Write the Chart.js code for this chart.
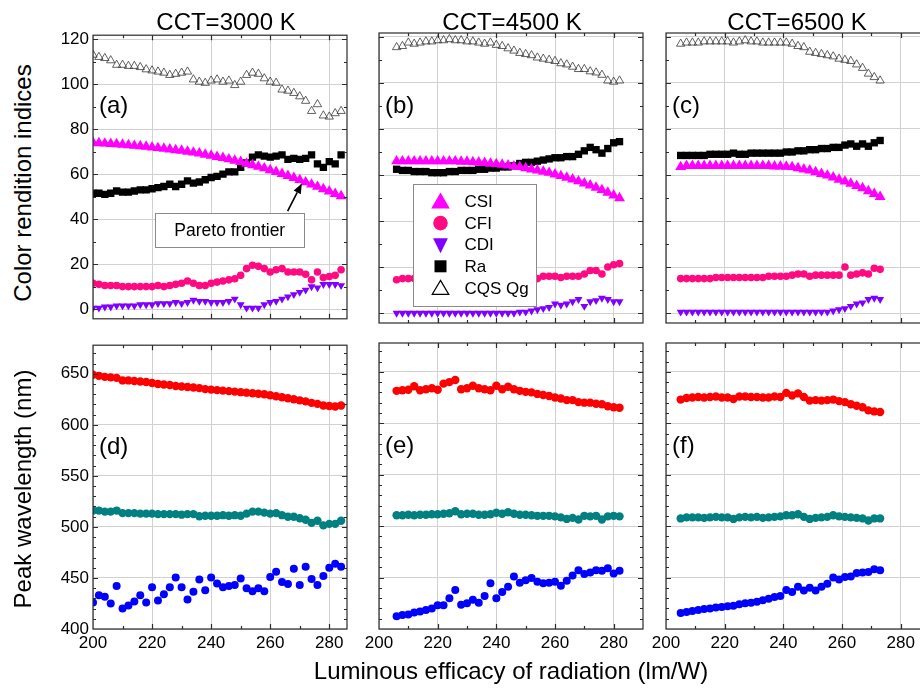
<!DOCTYPE html>
<html>
<head>
<meta charset="utf-8">
<script src="https://cdn.jsdelivr.net/npm/chart.js@4.4.1/dist/chart.umd.min.js"></script>
<style>
  body { margin: 0; width: 920px; height: 689px; overflow: hidden; background: #fff; position: relative;
         font-family: "Liberation Sans", Arial, sans-serif; }
  canvas { position: absolute; }
  .t { position: absolute; font-size: 24px; line-height: 1; color: #000; white-space: nowrap;
       transform: translate(-50%, -50%); }
  .t.rot { transform: translate(-50%, -50%) rotate(-90deg); }
</style>
</head>
<body>
<canvas id="pa"></canvas><canvas id="pb"></canvas><canvas id="pc"></canvas>
<canvas id="pd"></canvas><canvas id="pe"></canvas><canvas id="pf"></canvas>

<div class="t" style="left:226px;top:22px">CCT=3000 K</div>
<div class="t" style="left:512px;top:22px">CCT=4500 K</div>
<div class="t" style="left:797px;top:22px">CCT=6500 K</div>
<div class="t rot" style="left:23px;top:183px">Color rendition indices</div>
<div class="t rot" style="left:23px;top:489px">Peak wavelength (nm)</div>
<div class="t" style="left:511px;top:671px">Luminous efficacy of radiation (lm/W)</div>

<script>
const FONT = '"Liberation Sans", Arial, sans-serif';

// axis ticks
const xTicks = [200, 220, 240, 260, 280];
const xMinor = [210, 230, 250, 270];
const yTopTicks = [0, 20, 40, 60, 80, 100, 120];
const yTopMinor = [10, 30, 50, 70, 90, 110];
const yBotTicks = [400, 450, 500, 550, 600, 650];
const yBotMinor = [410, 420, 430, 440, 460, 470, 480, 490, 510, 520, 530, 540,
                   560, 570, 580, 590, 610, 620, 630, 640, 660, 670];

// CCT = 3000 K
const xA = [200,202,204,206,208,210,212,214,216,218,220,222,224,226,228,230,232,234,236,238,240,242,
            244,246,248,250,252,254,256,258,260,262,264,266,268,270,272,274,276,278,280,282,284];
const cqsA = [113,112,111.5,110.5,108.5,108.5,108,108,107.5,106.5,106,105.5,105,104,104.5,105,105.5,102,101,100.5,
              101.5,102,101,101.5,99.5,101,104,105,104.5,102.5,101,100.5,97.5,97,96,94.5,92.5,88,91,86,85.5,87,88];
const csiA = [74,73.8,73.6,73.4,73.3,73.1,72.9,72.6,72.4,72.2,71.9,71.6,71.3,71,70.7,70.4,70,69.6,69.2,68.7,
              68.2,67.7,67.2,66.6,66,65.4,64.7,64,63.3,62.6,61.8,61,60.1,59.2,58.3,57.4,56.4,55.4,54.4,53.3,52.3,51.2,50.2];
const raA = [51.5,51.5,51,51.5,52.5,52,52,52.5,53,53,53.5,54,54.5,55.5,54.5,55.5,57,56,56.5,57.5,
             58.5,59,60,61,61,63,65,67.5,68.5,68,67.5,68,68.5,66.5,67,66.5,67,68.5,64.5,63,65.5,64.5,68.5];
const cfiA = [11.5,11,10.5,10.5,10.5,10,10,10,10,10,10,10.5,10,10.5,11,11.5,12.5,11.5,10.5,10.5,
              11.5,12,12.5,13,13.5,15,18,19.5,19,18,16.5,17.5,18,16.5,16.5,16.5,15.5,13,16.5,14,14.5,15,17.5];
const cdiA = [0.5,0.5,1,1,1.5,1.5,1.5,1.5,2,2,2,2.5,2.5,2.5,3,2.5,3,4,3.5,3.5,
              3,3,3,3.5,4.5,2,0.5,0.5,0.5,2,3,3.5,4.5,5.5,6.5,7.5,8.5,10,9.5,11,11,11,10.5];
const redD = [649,648,647,646.5,646,643.5,643.5,643,642.5,642,641,640,639.5,639,638,637.5,637,636.5,636,635,
              634.5,634,633.5,633,632.5,632,631.5,631,630.5,630,629,628,627,626,625,624,623,621.5,620.5,619,618.5,618,619];
const tealD = [516,516,515,515,516,513.5,513.5,513.5,513,513,513,512.5,512.5,512.5,512.5,512,512.5,512.5,510.5,511,
               511,511,511.5,511,511.5,511,513,515,515,514,513,513.5,511.5,510,510,508.5,507,504,506,501.5,503,503,506];
const blueD = [426,433,431.5,425,442,420,423,427,433,426,441,428,434,441,450.5,441,429,436.5,448.5,438,
               450.5,444.5,441,442,443,449.5,440,437,440,437,451,456,446,444,459,443,461,449,443,452,460,464,461];

// CCT = 4500 K
const xB = [206,208,210,212,214,216,218,220,222,224,226,228,230,232,234,236,238,240,242,244,
            246,248,250,252,254,256,258,260,262,264,266,268,270,272,274,276,278,280,282];
const cqsB = [115.5,116,117.5,117,117.5,118,118,118.5,118.5,119,118.5,118.5,118,118,117.5,117,117.5,116.5,116,115,
              114,113,112.5,112,111,110.5,110,109.5,108.5,108,107,106,106,105,104.5,103.5,101,100.5,101];
const csiB = [66,66,66,66,66,66,66,66,66,66,66,65.8,65.8,65.6,65.5,65.3,65,64.8,64.5,64.2,
              63.8,63.5,63,62.5,62,61.5,61,60.3,59.6,58.9,58.1,57.3,56.4,55.5,54.5,53.5,52.4,51.2,50];
const raB = [62.5,62,62,61.5,61.5,61.5,61,61,61,61.5,61.5,62,62,62,62.5,62.5,63,63,63.5,63.5,
             64,65,65.5,65.5,66,66.5,67,67.5,67.5,68,68,69,70.5,72,71,69.5,71.5,74,74.5];
const cfiB = [14.5,15,15,15,15,15,15,15,15,15,15,15,15,15,15,15,15,15,15,15,
              15,15,15,15,15,16,16,16,15.5,16,16,16,17,18.5,18.5,17,20,21,21.5];
const cdiB = [0,0,0,0,0,0,0,0,0,0,0,0,0,0,0,0,0,0,0,0,
              0,0.5,0.5,1,1.5,2,2.5,4,3.5,4,5,6,3,5,5.5,6.5,6,5,5];
const redE = [631.5,632,632.5,636,632,633,634,632.5,638.5,640,642,633,634,636.5,634,633,632,636.5,633,635.5,
              633,631.5,630.5,630,628.5,627.5,626.5,625,624,622.5,622.5,620.5,620,620,619,618.5,616.5,615.5,615];
const tealE = [510.5,510.5,511,510.5,511,511,511.5,511.5,512,512.5,514.5,511.5,512,512,511,511,511.5,513,512,513.5,
               512,511,511,510.5,510,510,510,509.5,508.5,507,508,506.5,510,509.5,510,506.5,509.5,510,509.5];
const blueE = [412.5,413.5,414,416,417,418.5,420,423,423,430,438,423.5,425,428.5,425.5,432,444.5,430,436,441,
               451,445,447.5,449.5,446,444.5,445,446,442,447,452,457,453.5,455,457,456.5,459,454,456.5];

// CCT = 6500 K
const xC = [205,207,209,211,213,215,217,219,221,223,225,227,229,231,233,235,237,239,241,243,
            245,247,249,251,253,255,257,259,261,263,265,267,269,271,273];
const cqsC = [117,117.5,117.5,117.5,118,118,118,118,118,117.5,118,118.5,118,118,117.5,117.5,117.5,117.5,117.5,117,
              116,115.5,113.5,113,112.5,112,111.5,110.5,110,109.5,108,106.5,104,102.5,101];
const csiC = [63.5,64,64,64,64,64,64,64,64,64,64,64,64,64,64,64,63.8,63.8,63.7,63.5,
              63,62.5,62,61.3,60.5,59.8,59,58,57.2,56.3,55.3,54.3,53,51.8,50.5];
const raC = [68.5,68.5,68.5,68.5,68.5,69,69,69,69,69.5,69,69,69.5,69.5,69.5,69.5,69.5,69.5,70,70,
             70.5,70.5,71,71,71.5,71.5,72,72,73,73.5,72.5,73.5,72.5,74,75];
const cfiC = [15,15,15,15,15,15,15.5,15.5,15.5,15.5,15.5,15.5,15.5,15.5,15.5,16,16,16,16,16.5,
              17,17,16,16.5,16.5,16.5,16.5,16.5,20,16.5,17,17.5,17,19.5,19];
const cdiC = [0.5,0.5,0.5,0.5,0.5,0.5,0.5,0.5,0.5,0.5,0.5,0.5,0.5,0.5,0.5,0.5,0.5,0.5,0.5,0.5,
              0.5,0.5,0.5,0.5,0.5,0.5,1,1.5,2,3,4,4.5,6,6.5,6];
const redF = [623,624.5,625,625.5,625,625.5,626,625,625,623.5,626,626,625.5,625.5,625,625,626,625.5,629.5,627,
              629,625.5,622,622.5,622,622.5,623,621.5,620.5,618.5,617,615.5,612.5,611.5,611];
const tealF = [507.5,508.5,508.5,508.5,508,508.5,509,508.5,508.5,507,508.5,509,508.5,509,508,508.5,509,509.5,510.5,510.5,
               511.5,509,507,508,508.5,509,510.5,509.5,509,508.5,508,507.5,505.5,507.5,507.5];
const blueF = [415.5,416.5,417.5,418.5,419.5,420,421,421.5,422,422.5,424,425,425.5,426.5,428,429.5,431,432,438,436,
               441,437.5,440,437.5,441,444,450,448,450.5,451,454.5,455,455.5,458,457];

// marker styles
const sCSI = { label: 'CSI', mark: 'up', style: 'triangle', r: 6.3, fill: '#FF00FF' };
const sCFI = { label: 'CFI', mark: 'circle', style: 'circle', r: 3.8, fill: '#FF0A80' };
const sCDI = { label: 'CDI', mark: 'down', style: 'triangle', rot: 180, r: 4.6, fill: '#7F00FF' };
const sRa  = { label: 'Ra', mark: 'square', style: 'rect', r: 5.2, fill: '#000000' };
const sCQS = { label: 'CQS Qg', mark: 'open', style: 'triangle', r: 4.8, fill: 'rgba(0,0,0,0)', line: '#3a3a3a', bw: 0.8 };
const sRed  = { style: 'circle', r: 4.2, fill: '#FF0000' };
const sTeal = { style: 'circle', r: 4.2, fill: '#008080' };
const sBlue = { style: 'circle', r: 4, fill: '#0000FF' };

const legendItems = [sCSI, sCFI, sCDI, sRa, sCQS];

// frame, inward ticks and panel letter
const framePlugin = {
  id: 'frame',
  afterDatasetsDraw(chart) {
    const cfg = chart.options.plugins.frame;
    const ctx = chart.ctx;
    const { left, right, top, bottom } = chart.chartArea;
    const xs = chart.scales.x, ys = chart.scales.y;
    ctx.save();
    ctx.strokeStyle = '#2b2b2b';
    ctx.lineWidth = 1.2;
    ctx.beginPath();
    const xt = (vals, len) => vals.forEach(v => {
      const p = Math.round(xs.getPixelForValue(v)) + 0.5;
      if (p <= left + 1 || p >= right - 1) return;
      ctx.moveTo(p, bottom); ctx.lineTo(p, bottom - len);
      ctx.moveTo(p, top); ctx.lineTo(p, top + len);
    });
    const yt = (vals, len) => vals.forEach(v => {
      const p = Math.round(ys.getPixelForValue(v)) + 0.5;
      if (p <= top + 1 || p >= bottom - 1) return;
      ctx.moveTo(left, p); ctx.lineTo(left + len, p);
      ctx.moveTo(right, p); ctx.lineTo(right - len, p);
    });
    xt(xTicks, 5); xt(xMinor, 3);
    yt(cfg.yMajor, 5); yt(cfg.yMinor, 3);
    ctx.stroke();
    ctx.strokeRect(left, top, right - left, bottom - top);

    ctx.fillStyle = '#000';
    ctx.font = '24px ' + FONT;
    ctx.textBaseline = 'middle';
    ctx.textAlign = 'left';
    ctx.fillText(cfg.letter, left + 6, ys.getPixelForValue(cfg.letterY));

    if (cfg.pareto) drawPareto(chart, cfg.pareto);
    if (cfg.legend) drawLegend(chart, cfg.legend);
    ctx.restore();
  }
};

function drawPareto(chart, p) {
  const ctx = chart.ctx, xs = chart.scales.x, ys = chart.scales.y;
  const x0 = xs.getPixelForValue(p.box[0]), x1 = xs.getPixelForValue(p.box[1]);
  const y0 = ys.getPixelForValue(p.box[3]), y1 = ys.getPixelForValue(p.box[2]);
  ctx.fillStyle = '#fff';
  ctx.fillRect(x0, y0, x1 - x0, y1 - y0);
  ctx.strokeStyle = '#8a8a8a';
  ctx.lineWidth = 1;
  ctx.strokeRect(Math.round(x0) + 0.5, Math.round(y0) + 0.5, Math.round(x1 - x0), Math.round(y1 - y0));
  ctx.fillStyle = '#000';
  ctx.font = '17.5px ' + FONT;
  ctx.textAlign = 'center';
  ctx.textBaseline = 'middle';
  ctx.fillText(p.text, (x0 + x1) / 2, (y0 + y1) / 2 + 1);
  // arrow
  const tx = xs.getPixelForValue(p.tail[0]), ty = ys.getPixelForValue(p.tail[1]);
  const hx = xs.getPixelForValue(p.tip[0]), hy = ys.getPixelForValue(p.tip[1]);
  const a = Math.atan2(hy - ty, hx - tx);
  const hl = 10, hw = 4;
  const bx = hx - hl * Math.cos(a), by = hy - hl * Math.sin(a);
  ctx.strokeStyle = '#000';
  ctx.lineWidth = 1.6;
  ctx.beginPath(); ctx.moveTo(tx, ty); ctx.lineTo(bx, by); ctx.stroke();
  ctx.fillStyle = '#000';
  ctx.beginPath();
  ctx.moveTo(hx, hy);
  ctx.lineTo(bx + hw * Math.sin(a), by - hw * Math.cos(a));
  ctx.lineTo(bx - hw * Math.sin(a), by + hw * Math.cos(a));
  ctx.closePath(); ctx.fill();
}

function drawLegend(chart, lg) {
  const ctx = chart.ctx, xs = chart.scales.x, ys = chart.scales.y;
  const x0 = Math.round(xs.getPixelForValue(lg.box[0])) + 0.5, x1 = Math.round(xs.getPixelForValue(lg.box[1])) + 0.5;
  const y0 = Math.round(ys.getPixelForValue(lg.box[3])) + 0.5, y1 = Math.round(ys.getPixelForValue(lg.box[2])) + 0.5;
  ctx.fillStyle = '#fff';
  ctx.fillRect(x0, y0, x1 - x0, y1 - y0);
  ctx.strokeStyle = '#8a8a8a';
  ctx.lineWidth = 1;
  ctx.strokeRect(x0, y0, x1 - x0, y1 - y0);
  ctx.font = '17px ' + FONT;
  ctx.textAlign = 'left';
  ctx.textBaseline = 'middle';
  legendItems.forEach((s, i) => {
    const cy = y0 + 17 + i * 21.6, cx = x0 + 27;
    ctx.fillStyle = s.fill;
    ctx.beginPath();
    if (s.mark === 'up') {
      ctx.moveTo(cx, cy - 9); ctx.lineTo(cx + 9.3, cy + 7); ctx.lineTo(cx - 9.3, cy + 7); ctx.closePath(); ctx.fill();
    } else if (s.mark === 'circle') {
      ctx.arc(cx, cy, 7.3, 0, Math.PI * 2); ctx.fill();
    } else if (s.mark === 'down') {
      ctx.moveTo(cx - 7.4, cy - 6.5); ctx.lineTo(cx + 7.4, cy - 6.5); ctx.lineTo(cx, cy + 8.5); ctx.closePath(); ctx.fill();
    } else if (s.mark === 'square') {
      ctx.rect(cx - 6, cy - 6, 12, 12); ctx.fill();
    } else {
      ctx.moveTo(cx, cy - 7.5); ctx.lineTo(cx + 8.3, cy + 6.5); ctx.lineTo(cx - 8.3, cy + 6.5); ctx.closePath();
      ctx.strokeStyle = '#000'; ctx.lineWidth = 1.2; ctx.stroke();
    }
    ctx.fillStyle = '#000';
    ctx.fillText(s.label, x0 + 51, cy + 1);
  });
}

function makePanel(cfg) {
  const cv = document.getElementById(cfg.id);
  const W = cfg.R - cfg.L + cfg.mL + cfg.mR;
  const H = cfg.B - cfg.T + cfg.mT + cfg.mB;
  cv.width = W; cv.height = H;
  cv.style.left = (cfg.L - cfg.mL) + 'px';
  cv.style.top = (cfg.T - cfg.mT) + 'px';
  cv.style.width = W + 'px'; cv.style.height = H + 'px';

  const datasets = cfg.sets.map(([s, ys]) => ({
    label: s.label || '',
    data: ys.map((v, i) => ({ x: cfg.x[i], y: v })),
    pointStyle: s.style,
    rotation: s.rot || 0,
    pointRadius: s.r,
    backgroundColor: s.fill,
    borderColor: s.line || s.fill,
    borderWidth: s.bw || 0,
    showLine: false,
    clip: 0
  }));

  new Chart(cv, {
    type: 'scatter',
    data: { datasets },
    options: {
      responsive: false,
      devicePixelRatio: 1,
      animation: false,
      events: [],
      layout: { padding: { left: 0, right: cfg.mR, top: cfg.mT, bottom: 0 } },
      plugins: {
        legend: { display: false },
        tooltip: { enabled: false },
        frame: cfg.frame
      },
      scales: {
        x: {
          type: 'linear', min: 200, max: cfg.xMax,
          afterBuildTicks: s => { s.ticks = xTicks.map(v => ({ value: v })); },
          afterFit: s => { s.height = cfg.mB; },
          grid: { color: '#d2d2d2', lineWidth: 1, drawTicks: false },
          border: { display: false },
          ticks: { display: cfg.showX, color: '#000', padding: 4, maxRotation: 0, autoSkip: false,
                   font: { family: FONT, size: 17 } }
        },
        y: {
          type: 'linear', min: cfg.yMin, max: cfg.yMax,
          afterBuildTicks: s => { s.ticks = cfg.frame.yMajor.map(v => ({ value: v })); },
          afterFit: s => { s.width = cfg.mL; },
          grid: { color: '#d2d2d2', lineWidth: 1, drawTicks: false },
          border: { display: false },
          ticks: { display: cfg.showY, color: '#000', padding: 4, autoSkip: false,
                   font: { family: FONT, size: 17 } }
        }
      }
    },
    plugins: [framePlugin]
  });
}

const top0 = { T: 33, B: 323, yMin: -4.3, yMax: 121.7, mT: 12, mB: 10 };
const bot0 = { T: 343, B: 629, yMin: 400, yMax: 678, mT: 12, mB: 32 };

makePanel(Object.assign({}, top0, {
  id: 'pa', L: 93, R: 347, mL: 40, mR: 20, xMax: 286, x: xA, showX: false, showY: true,
  sets: [[sCSI, csiA], [sRa, raA], [sCFI, cfiA], [sCDI, cdiA], [sCQS, cqsA]],
  frame: { yMajor: yTopTicks, yMinor: yTopMinor, letter: '(a)', letterY: 90,
           pareto: { text: 'Pareto frontier', box: [221.1, 271.5, 27.5, 42.7], tail: [265.9, 43.5], tip: [270.7, 55.8] } }
}));
makePanel(Object.assign({}, top0, {
  id: 'pb', L: 379, R: 643, mL: 20, mR: 20, xMax: 290, x: xB, showX: false, showY: false,
  sets: [[sCSI, csiB], [sRa, raB], [sCFI, cfiB], [sCDI, cdiB], [sCQS, cqsB]],
  frame: { yMajor: yTopTicks, yMinor: yTopMinor, letter: '(b)', letterY: 90,
           legend: { box: [211.6, 253.6, 3.0, 56.3] } }
}));
makePanel(Object.assign({}, top0, {
  id: 'pc', L: 666, R: 930, mL: 20, mR: 20, xMax: 290, x: xC, showX: false, showY: false,
  sets: [[sCSI, csiC], [sRa, raC], [sCFI, cfiC], [sCDI, cdiC], [sCQS, cqsC]],
  frame: { yMajor: yTopTicks, yMinor: yTopMinor, letter: '(c)', letterY: 90 }
}));
makePanel(Object.assign({}, bot0, {
  id: 'pd', L: 93, R: 347, mL: 40, mR: 20, xMax: 286, x: xA, showX: true, showY: true,
  sets: [[sRed, redD], [sTeal, tealD], [sBlue, blueD]],
  frame: { yMajor: yBotTicks, yMinor: yBotMinor, letter: '(d)', letterY: 578 }
}));
makePanel(Object.assign({}, bot0, {
  id: 'pe', L: 379, R: 643, mL: 20, mR: 20, xMax: 290, x: xB, showX: true, showY: false,
  sets: [[sRed, redE], [sTeal, tealE], [sBlue, blueE]],
  frame: { yMajor: yBotTicks, yMinor: yBotMinor, letter: '(e)', letterY: 578 }
}));
makePanel(Object.assign({}, bot0, {
  id: 'pf', L: 666, R: 930, mL: 20, mR: 20, xMax: 290, x: xC, showX: true, showY: false,
  sets: [[sRed, redF], [sTeal, tealF], [sBlue, blueF]],
  frame: { yMajor: yBotTicks, yMinor: yBotMinor, letter: '(f)', letterY: 578 }
}));
</script>
</body>
</html>
